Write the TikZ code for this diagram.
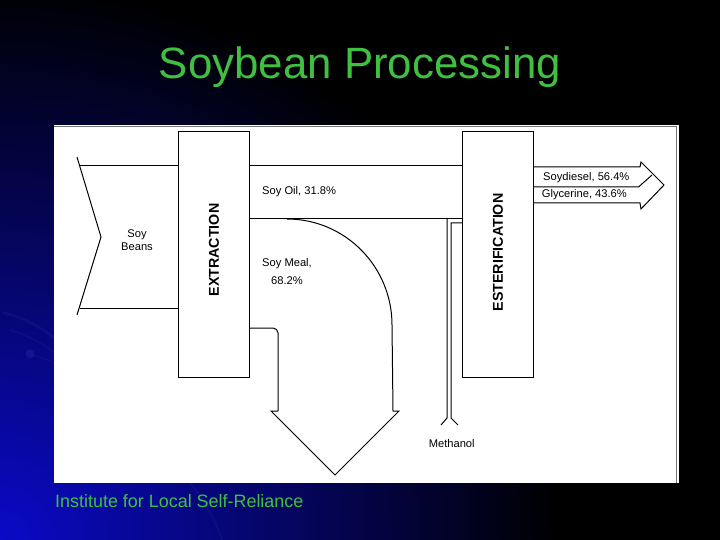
\documentclass[tikz,border=0pt]{standalone}
\usepackage{fontspec}
\setmainfont{Liberation Sans}
\definecolor{titlegreen}{RGB}{64,192,64}
\definecolor{bgblue}{RGB}{10,10,200}
\definecolor{swoosh}{RGB}{30,30,150}
\begin{document}
\begin{tikzpicture}[x=1bp,y=-1bp,line join=miter,
  ln/.style={draw=black,line width=1bp},
  lbl/.style={font=\fontsize{11.2}{13}\selectfont,inner sep=0pt},
  boxlbl/.style={font=\fontsize{14.3}{16}\selectfont\bfseries,rotate=90,inner sep=0pt},
  greentext/.style={text=titlegreen,inner sep=0pt}]
% background
\useasboundingbox (0,0) rectangle (720,540);
\fill[black] (0,0) rectangle (720,540);
\begin{scope}
  \clip (0,0) rectangle (720,540);
  \shade[inner color=bgblue,outer color=black] (0,540) circle (560bp);
  \draw[swoosh,line width=2.5bp,opacity=0.35,line cap=round] (4,313) .. controls (25,318) and (42,328) .. (54,338);
  \draw[swoosh,line width=1.5bp,opacity=0.3,line cap=round] (10,330) .. controls (30,336) and (44,345) .. (54,352);
  \draw[swoosh,line width=1.5bp,opacity=0.3,line cap=round] (30,354) .. controls (40,357) and (48,360) .. (54,363);
  \fill[swoosh,opacity=0.6] (30,354) circle (4.5bp);
  \draw[swoosh,line width=2bp,opacity=0.3,line cap=round] (190,483) .. controls (205,500) and (215,520) .. (222,540);
\end{scope}
% panel
\fill[white] (54,125) rectangle (679,483);
\draw[black!55,line width=0.8bp] (54,126) -- (676,126) -- (676,483);
% title and footer
\node[greentext,font=\fontsize{44}{50}\selectfont,anchor=base] (title) at (360,79) {Soybean Processing};
\node[greentext,font=\fontsize{18}{21}\selectfont,anchor=base west] (footer) at (55,507) {Institute for Local Self-Reliance};
% process boxes
\draw[ln] (178,132) rectangle (249,377);
\draw[ln] (462,132) rectangle (533,377);
\node[boxlbl] (extr) at (214,250) {EXTRACTION};
\node[boxlbl] (ester) at (498,252.5) {ESTERIFICATION};
% soy beans input
\draw[ln] (80,166) -- (178,166);
\draw[ln] (80,308) -- (178,308);
\draw[ln] (77,157) -- (101,237) -- (77,315);
\node[lbl,align=center] (beans) at (137,240.5) {Soy\\Beans};
% soy oil band
\draw[ln] (249,166) -- (462,166);
\draw[ln] (249,219) -- (462,219);
\node[lbl,anchor=west] (oil) at (262,191.7) {Soy Oil, 31.8\%};
% soy meal pipe and arrow
\draw[ln] (287,219) arc[start angle=90,end angle=0,x radius=105bp,y radius=106bp]
  -- (393,411) -- (399,411) -- (335,475) -- (271,411) -- (278,411);
\draw[ln,rounded corners=5bp] (278,411) -- (278,328) -- (249,328);
\node[lbl,align=center,font=\fontsize{11.2}{18.3}\selectfont] (meal) at (287,271.5) {Soy Meal,\\68.2\%};
% methanol pipe
\draw[ln] (447,219) -- (447,418) -- (441,425);
\draw[ln] (462,223) -- (451,223) -- (451,418) -- (458,425);
\node[lbl] (meth) at (451.7,444) {Methanol};
% output arrow
\draw[ln] (533,167) -- (640,167) -- (641,162) -- (664,185) -- (641,209) -- (640,203) -- (533,203);
\draw[ln] (533,187) -- (638.5,187) -- (652,175);
\node[lbl,anchor=west] (diesel) at (543,177.3) {Soydiesel, 56.4\%};
\node[lbl,anchor=west] (glyc) at (541.7,194.5) {Glycerine, 43.6\%};
\end{tikzpicture}
\end{document}
